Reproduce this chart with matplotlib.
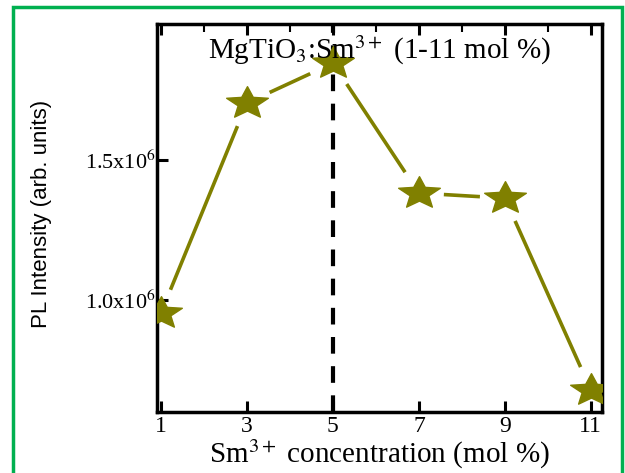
import matplotlib
matplotlib.use('Agg')
import matplotlib.pyplot as plt
from matplotlib.patches import Rectangle
from matplotlib.path import Path
import numpy as np

# Sm3+ doping level (mol %) and PL intensity
conc = [1, 3, 5, 7, 9, 11]
intensity = [0.954e6, 1.704e6, 1.846e6, 1.382e6, 1.364e6, 0.679e6]
ytick_vals = [1.0e6, 1.5e6]
ytick_text = [r'1.0x10$^{6}$', r'1.5x10$^{6}$']

olive = '#808000'
serif = ['Liberation Serif', 'DejaVu Serif']
plt.rcParams['mathtext.fontset'] = 'stix'

# slightly wide five-pointed star used as the marker
ang = np.pi / 2 + np.arange(10) * np.pi / 5
rad = np.where(np.arange(10) % 2 == 0, 1.0, 0.45)
star = np.column_stack([1.3 * rad * np.cos(ang), rad * np.sin(ang)])
star = np.vstack([star, star[:1]])
wide_star = Path(star, closed=True)

fig = plt.figure(figsize=(6.25, 4.73), dpi=100)
ax = fig.add_axes([157 / 625, 1 - 412 / 473, 445 / 625, 388 / 473])

# green frame around the whole figure
fig.patches.append(Rectangle((13 / 625, -0.05), 609 / 625, 1.05 - 7 / 473,
                             transform=fig.transFigure, fill=False,
                             edgecolor='#00B050', linewidth=2.5))

ax.set_xlim(0.907, 11.26)
ax.set_ylim(0.6e6, 1.986e6)

# line segments that stop short of each star
fig.canvas.draw()
pts = ax.transData.transform(np.column_stack([conc, intensity]))
gap = 25
for p0, p1 in zip(pts[:-1], pts[1:]):
    d = p1 - p0
    u = d / np.hypot(*d)
    a = ax.transData.inverted().transform([p0 + u * gap, p1 - u * gap])
    ax.plot(a[:, 0], a[:, 1], color=olive, lw=2.6, solid_capstyle='butt')

ax.plot(conc, intensity, ls='none', marker=wide_star, color=olive,
        markersize=30, zorder=3)
ax.axvline(5, color='black', lw=3, ls=(0, (4, 3)), zorder=1)

ax.set_xticks(conc)
ax.set_xticks([2, 4, 6, 8, 10], minor=True)
ax.set_yticks(ytick_vals)
ax.set_yticklabels(ytick_text)
ax.tick_params(direction='in', which='major', length=8, width=2.2,
               top=True, labelsize=16)
ax.tick_params(direction='in', which='minor', length=6, width=1.5,
               top=True, bottom=False)
for lab in ax.get_xticklabels():
    lab.set_family(serif)
    lab.set_fontsize(17)
for lab in ax.get_yticklabels():
    lab.set_family(serif)
ax.tick_params(axis='x', pad=3)
ax.tick_params(axis='y', pad=1)
for s in ax.spines.values():
    s.set_linewidth(2.5)

ax.text(0.5, 0.975, r'MgTiO$_3$:Sm$^{3+}$ (1-11 mol %)', transform=ax.transAxes,
        ha='center', va='top', fontsize=21, family=serif)
ax.set_xlabel(r'Sm$^{3+}$ concentration (mol %)', fontsize=21, family=serif,
              labelpad=0)
ax.set_ylabel('PL Intensity (arb. units)', fontsize=16,
              family=['Liberation Sans Narrow', 'Liberation Sans'])
ax.yaxis.set_label_coords(-0.237, 0.51)

fig.savefig('out.png', dpi=100)
